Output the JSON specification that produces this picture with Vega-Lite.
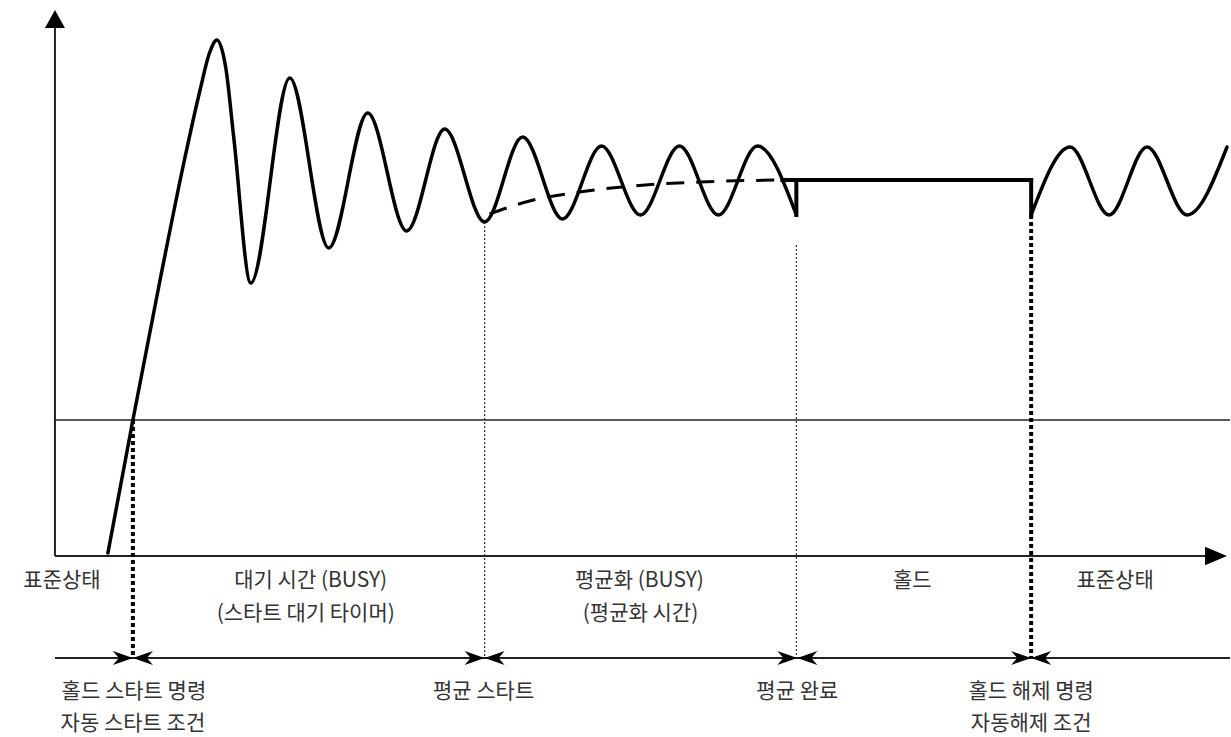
{
  "$schema": "https://vega.github.io/schema/vega-lite/v6.json",
  "width": 1231,
  "height": 737,
  "autosize": {"type": "fit", "contains": "padding"},
  "padding": 0,
  "background": "white",
  "config": {"view": {"stroke": null}},
  "datasets": {
    "wave": [
      {"seg": "a", "x": 108, "v": 3},
      {"seg": "a", "x": 133, "v": 136},
      {"seg": "a", "x": 160, "v": 275},
      {"seg": "a", "x": 185, "v": 398},
      {"seg": "a", "x": 200, "v": 465},
      {"seg": "a", "x": 210, "v": 504},
      {"seg": "a", "x": 217, "v": 516},
      {"seg": "a", "x": 226, "v": 488},
      {"seg": "a", "x": 234, "v": 418},
      {"seg": "a", "x": 251, "v": 273},
      {"seg": "a", "x": 290, "v": 478},
      {"seg": "a", "x": 329, "v": 308},
      {"seg": "a", "x": 368, "v": 443},
      {"seg": "a", "x": 407, "v": 325},
      {"seg": "a", "x": 445, "v": 427},
      {"seg": "a", "x": 485, "v": 334},
      {"seg": "a", "x": 523, "v": 419},
      {"seg": "a", "x": 563, "v": 337},
      {"seg": "a", "x": 602, "v": 410},
      {"seg": "a", "x": 641, "v": 341},
      {"seg": "a", "x": 680, "v": 410},
      {"seg": "a", "x": 719, "v": 341},
      {"seg": "a", "x": 758, "v": 410},
      {"seg": "a", "x": 797, "v": 341},
      {"seg": "c", "x": 1032, "v": 341},
      {"seg": "c", "x": 1071, "v": 409},
      {"seg": "c", "x": 1110, "v": 341},
      {"seg": "c", "x": 1148, "v": 409},
      {"seg": "c", "x": 1188, "v": 341},
      {"seg": "c", "x": 1228, "v": 409}
    ],
    "mean": [
      {"x": 490, "v": 342},
      {"x": 530, "v": 355},
      {"x": 580, "v": 364},
      {"x": 633, "v": 370},
      {"x": 700, "v": 374},
      {"x": 783, "v": 376}
    ],
    "rules": [
      {"role": "axis", "x": 55, "v": 0, "x2": 55, "v2": 528},
      {"role": "axis", "x": 55, "v": 0, "x2": 1206, "v2": 0},
      {"role": "threshold", "x": 55, "v": 136, "x2": 1231, "v2": 136},
      {"role": "timeline", "x": 55, "v": -102, "x2": 1231, "v2": -102},
      {"role": "weak", "x": 485, "v": 334, "x2": 485, "v2": -102},
      {"role": "weak", "x": 797, "v": 311, "x2": 797, "v2": -102},
      {"role": "strong", "x": 133, "v": 136, "x2": 133, "v2": -102},
      {"role": "strong", "x": 1032, "v": 341, "x2": 1032, "v2": -102},
      {"role": "hold", "x": 783, "v": 376, "x2": 1032, "v2": 376},
      {"role": "hold", "x": 1032, "v": 376, "x2": 1032, "v2": 341},
      {"role": "hold", "x": 797, "v": 376, "x2": 797, "v2": 341}
    ],
    "arrows": [
      {"dir": "up", "x": 55, "v": 546},
      {"dir": "right", "x": 1228, "v": 0},
      {"dir": "toRight", "x": 133, "v": -102},
      {"dir": "toRight", "x": 485, "v": -102},
      {"dir": "toRight", "x": 798, "v": -102},
      {"dir": "toRight", "x": 1032, "v": -102},
      {"dir": "toLeft", "x": 133, "v": -102},
      {"dir": "toLeft", "x": 485, "v": -102},
      {"dir": "toLeft", "x": 798, "v": -102},
      {"dir": "toLeft", "x": 1032, "v": -102}
    ],
    "labels": [
      {"x": 62, "v": -25, "label": "표준상태"},
      {"x": 311, "v": -25, "label": "대기 시간 (BUSY)"},
      {"x": 306, "v": -58, "label": "(스타트 대기 타이머)"},
      {"x": 640, "v": -25, "label": "평균화 (BUSY)"},
      {"x": 641, "v": -58, "label": "(평균화 시간)"},
      {"x": 913, "v": -25, "label": "홀드"},
      {"x": 1116, "v": -25, "label": "표준상태"},
      {"x": 134, "v": -136, "label": "홀드 스타트 명령"},
      {"x": 133, "v": -168, "label": "자동 스타트 조건"},
      {"x": 484, "v": -136, "label": "평균 스타트"},
      {"x": 798, "v": -136, "label": "평균 완료"},
      {"x": 1032, "v": -136, "label": "홀드 해제 명령"},
      {"x": 1032, "v": -168, "label": "자동해제 조건"}
    ]
  },
  "encoding": {
    "x": {"field": "x", "type": "quantitative", "scale": {"domain": [0, 1231], "nice": false, "zero": false}, "axis": null},
    "y": {"field": "v", "type": "quantitative", "scale": {"domain": [-181, 556], "nice": false, "zero": false}, "axis": null}
  },
  "layer": [
    {
      "data": {"name": "rules"},
      "transform": [{"filter": "datum.role === 'axis'"}],
      "mark": {"type": "rule", "color": "#222222", "strokeWidth": 2},
      "encoding": {"x2": {"field": "x2"}, "y2": {"field": "v2"}}
    },
    {
      "data": {"name": "rules"},
      "transform": [{"filter": "datum.role === 'threshold'"}],
      "mark": {"type": "rule", "color": "#222222", "strokeWidth": 1.5},
      "encoding": {"x2": {"field": "x2"}, "y2": {"field": "v2"}}
    },
    {
      "data": {"name": "rules"},
      "transform": [{"filter": "datum.role === 'timeline'"}],
      "mark": {"type": "rule", "color": "#222222", "strokeWidth": 2},
      "encoding": {"x2": {"field": "x2"}, "y2": {"field": "v2"}}
    },
    {
      "data": {"name": "rules"},
      "transform": [{"filter": "datum.role === 'weak'"}],
      "mark": {"type": "rule", "color": "#333333", "strokeWidth": 1.2, "strokeDash": [2, 2]},
      "encoding": {"x2": {"field": "x2"}, "y2": {"field": "v2"}}
    },
    {
      "data": {"name": "rules"},
      "transform": [{"filter": "datum.role === 'strong'"}],
      "mark": {"type": "rule", "color": "#000000", "strokeWidth": 4, "strokeDash": [4, 3]},
      "encoding": {"x2": {"field": "x2"}, "y2": {"field": "v2"}}
    },
    {
      "data": {"name": "mean"},
      "mark": {"type": "line", "color": "#000000", "strokeWidth": 3, "strokeDash": [18, 12], "interpolate": "monotone"},
      "encoding": {}
    },
    {
      "data": {"name": "wave"},
      "mark": {"type": "line", "color": "#000000", "strokeWidth": 3.5, "interpolate": "monotone", "strokeCap": "round", "strokeJoin": "round"},
      "encoding": {"detail": {"field": "seg"}}
    },
    {
      "data": {"name": "rules"},
      "transform": [{"filter": "datum.role === 'hold'"}],
      "mark": {"type": "rule", "color": "#000000", "strokeWidth": 4, "strokeCap": "square"},
      "encoding": {"x2": {"field": "x2"}, "y2": {"field": "v2"}}
    },
    {
      "data": {"name": "arrows"},
      "transform": [{"filter": "datum.dir === 'up'"}],
      "mark": {"type": "point", "shape": "M 0 0 L 1 1.8 L -1 1.8 Z", "size": 400, "filled": true, "opacity": 1, "color": "#000000", "strokeWidth": 0}
    },
    {
      "data": {"name": "arrows"},
      "transform": [{"filter": "datum.dir === 'right'"}],
      "mark": {"type": "point", "shape": "M 0 0 L -2 -0.85 L -2 0.85 Z", "size": 484, "filled": true, "opacity": 1, "color": "#000000", "strokeWidth": 0}
    },
    {
      "data": {"name": "arrows"},
      "transform": [{"filter": "datum.dir === 'toRight'"}],
      "mark": {"type": "point", "shape": "M 0 0 L -2 -0.7 L -1.4 0 L -2 0.7 Z", "size": 400, "filled": true, "opacity": 1, "color": "#000000", "strokeWidth": 0}
    },
    {
      "data": {"name": "arrows"},
      "transform": [{"filter": "datum.dir === 'toLeft'"}],
      "mark": {"type": "point", "shape": "M 0 0 L 2 -0.7 L 1.4 0 L 2 0.7 Z", "size": 400, "filled": true, "opacity": 1, "color": "#000000", "strokeWidth": 0}
    },
    {
      "data": {"name": "labels"},
      "mark": {"type": "text", "font": "Noto Sans CJK KR", "fontSize": 21, "color": "#333333", "align": "center", "baseline": "middle"},
      "encoding": {"text": {"field": "label"}}
    }
  ]
}
